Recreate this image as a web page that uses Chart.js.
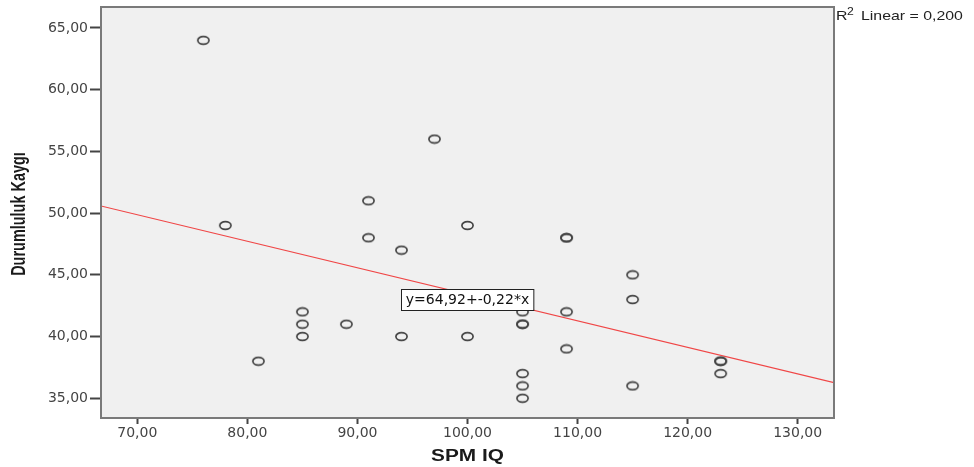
<!DOCTYPE html>
<html>
<head>
<meta charset="utf-8">
<script src="https://cdn.jsdelivr.net/npm/chart.js@4"></script>
<style>
  html, body { margin: 0; padding: 0; background: #fff; }
</style>
</head>
<body>
<canvas id="chart" width="974" height="467"></canvas>
<script>
// SPM IQ vs Durumluluk Kaygi
const spmIQ = [76, 78, 81, 85, 85, 85, 89, 91, 91, 94, 94, 97, 100, 100,
  105, 105, 105, 105, 105, 105, 109, 109, 109, 109, 115, 115, 115, 123, 123, 123];
const kaygi = [64, 49, 38, 42, 41, 40, 41, 51, 48, 47, 40, 56, 49, 40,
  42, 41, 41, 37, 36, 35, 48, 48, 42, 39, 45, 43, 36, 38, 38, 37];

const xTicks = [70, 80, 90, 100, 110, 120, 130];
const yTicks = [35, 40, 45, 50, 55, 60, 65];
const xRange = [66.7, 133.3];
const yRange = [33.4, 66.7];

const intercept = 64.92;
const slope = -0.215;
const fitLabel = "y=64,92+-0,22*x";
const r2Label = "Linear = 0,200";
const xTitle = "SPM IQ";
const yTitle = "Durumluluk Kaygı";

const fmt = (v) => v.toFixed(2).replace(".", ",");

const fitLine = xRange.map((x) => ({ x: x, y: intercept + slope * x }));

// open ellipse marker (the source picture is a bit stretched sideways)
const marker = document.createElement("canvas");
marker.width = 15;
marker.height = 11;
(function () {
  const c = marker.getContext("2d");
  c.strokeStyle = "#444";
  c.lineWidth = 1.7;
  c.beginPath();
  c.ellipse(7.5, 5.5, 5.6, 3.8, 0, 0, Math.PI * 2);
  c.stroke();
})();

// text drawn with a horizontal stretch to match the source
function stretchedText(ctx, text, x, y, sx, sy, align) {
  ctx.save();
  ctx.translate(x, y);
  ctx.scale(sx, sy);
  ctx.textAlign = align;
  ctx.fillText(text, 0, 0);
  ctx.restore();
}

const plotFrame = {
  id: "plotFrame",
  beforeDraw(chart) {
    const { ctx, chartArea: a } = chart;
    ctx.save();
    ctx.fillStyle = "#f0f0f0";
    ctx.fillRect(a.left, a.top, a.right - a.left, a.bottom - a.top);
    ctx.restore();
  },
  afterDraw(chart) {
    const { ctx, chartArea: a, scales } = chart;
    ctx.save();
    ctx.strokeStyle = "#7a7a7a";
    ctx.lineWidth = 2;
    ctx.strokeRect(a.left, a.top, a.right - a.left, a.bottom - a.top);

    // equation label box
    const px = scales.x.getPixelForValue(100);
    const py = scales.y.getPixelForValue(43.0);
    ctx.font = "14px 'DejaVu Sans', sans-serif";
    const w = ctx.measureText(fitLabel).width + 9;
    const h = 21;
    ctx.fillStyle = "#fff";
    ctx.fillRect(px - w / 2, py - h / 2, w, h);
    ctx.strokeStyle = "#222";
    ctx.lineWidth = 1;
    ctx.strokeRect(Math.round(px - w / 2) + 0.5, Math.round(py - h / 2) + 0.5, w, h);
    ctx.fillStyle = "#111";
    ctx.textBaseline = "middle";
    stretchedText(ctx, fitLabel, px, py + 1, 1, 1, "center");

    // R squared note
    ctx.textBaseline = "alphabetic";
    ctx.fillStyle = "#222";
    ctx.font = "13px 'Liberation Sans', Arial, sans-serif";
    stretchedText(ctx, "R", a.right + 2, 20, 1.22, 1, "left");
    ctx.font = "10px 'Liberation Sans', Arial, sans-serif";
    stretchedText(ctx, "2", a.right + 13, 15, 1.22, 1, "left");
    ctx.font = "13px 'Liberation Sans', Arial, sans-serif";
    stretchedText(ctx, r2Label, a.right + 27, 20, 1.22, 1, "left");

    // axis titles
    ctx.fillStyle = "#1a1a1a";
    ctx.font = "bold 16px 'Liberation Sans', Arial, sans-serif";
    stretchedText(ctx, xTitle, (a.left + a.right) / 2, 461, 1.3, 1, "center");

    ctx.save();
    ctx.translate(25, 214);
    ctx.rotate(-Math.PI / 2);
    ctx.font = "bold 17px 'Liberation Sans', Arial, sans-serif";
    stretchedText(ctx, yTitle, 0, 0, 0.85, 1.15, "center");
    ctx.restore();
    ctx.restore();
  },
};

new Chart(document.getElementById("chart"), {
  type: "scatter",
  data: {
    datasets: [
      {
        data: spmIQ.map((x, i) => ({ x: x, y: kaygi[i] })),
        pointStyle: marker,
        pointRadius: 5,
        order: 1,
      },
      {
        type: "line",
        data: fitLine,
        borderColor: "#f04646",
        borderWidth: 1.2,
        pointRadius: 0,
        fill: false,
        order: 2,
      },
    ],
  },
  plugins: [plotFrame],
  options: {
    responsive: false,
    animation: false,
    devicePixelRatio: 1,
    layout: { padding: { top: 7, right: 140, left: 0, bottom: 0 } },
    plugins: {
      legend: { display: false },
      tooltip: { enabled: false },
    },
    scales: {
      x: {
        type: "linear",
        min: xRange[0],
        max: xRange[1],
        afterBuildTicks: (s) => { s.ticks = xTicks.map((v) => ({ value: v })); },
        afterFit: (s) => {
          s.height = 49;
          s.paddingLeft = 0;
          s.paddingRight = 0;
        },
        grid: { drawOnChartArea: false, drawTicks: true, tickLength: 6, tickColor: "#444", tickWidth: 2 },
        border: { display: false },
        ticks: {
          color: "#444",
          padding: 1,
          font: { size: 14, family: "'DejaVu Sans', sans-serif" },
          callback: (v) => fmt(v),
          maxRotation: 0,
        },
      },
      y: {
        type: "linear",
        min: yRange[0],
        max: yRange[1],
        afterBuildTicks: (s) => { s.ticks = yTicks.map((v) => ({ value: v })); },
        afterFit: (s) => {
          s.width = 101;
          s.paddingTop = 0;
          s.paddingBottom = 0;
        },
        grid: { drawOnChartArea: false, drawTicks: true, tickLength: 11, tickColor: "#444", tickWidth: 2 },
        border: { display: false },
        ticks: {
          color: "#444",
          padding: 2,
          font: { size: 14, family: "'DejaVu Sans', sans-serif" },
          callback: (v) => fmt(v),
        },
      },
    },
  },
});
</script>
</body>
</html>
